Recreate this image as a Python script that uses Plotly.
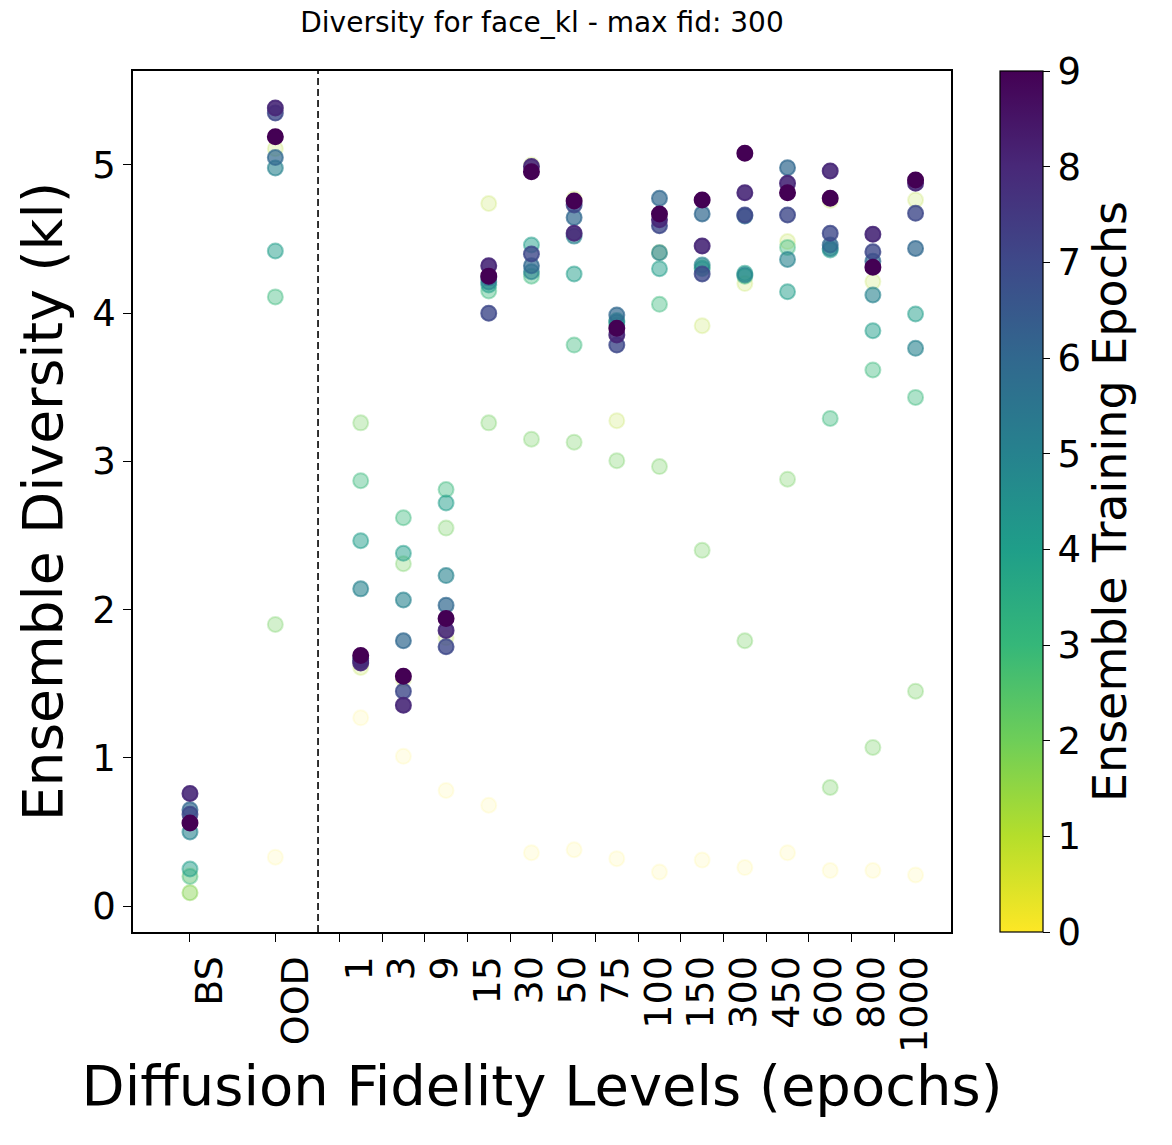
import plotly.graph_objects as go
import plotly.colors as pc

# ---- data ----
categories = ["BS", "OOD", "1", "3", "9", "15", "30", "50", "75", "100",
              "150", "300", "450", "600", "800", "1000"]
epochs = list(range(10))

# diversity values per training epoch, one value per category (order as `categories`)
epoch0 = [0.21, 0.33, 1.27, 1.01, 0.78, 0.68, 0.36, 0.38, 0.32, 0.23, 0.31, 0.26, 0.36, 0.24, 0.24, 0.21]
epoch1 = [0.09, 5.11, 1.61, 1.53, 1.81, 4.74, 5.00, 4.77, 3.275, 4.41, 3.916, 4.20, 4.483, 4.76, 4.213, 4.764]
epoch2 = [0.09, 1.90, 3.26, 2.31, 2.55, 3.26, 3.15, 3.13, 3.005, 2.965, 2.40, 1.79, 2.88, 0.80, 1.07, 1.45]
epoch3 = [0.20, 4.11, 2.87, 2.62, 2.81, 4.15, 4.25, 3.785, 3.92, 4.06, 4.31, 4.25, 4.444, 3.29, 3.617, 3.432]
epoch4 = [0.25, 4.42, 2.465, 2.38, 2.72, 4.19, 4.46, 4.265, 3.95, 4.30, 4.30, 4.27, 4.145, 4.426, 3.882, 3.995]
epoch5 = [0.50, 4.98, 2.14, 2.065, 2.23, 4.21, 4.28, 4.52, 3.94, 4.408, 4.325, 4.258, 4.363, 4.437, 4.123, 3.763]
epoch6 = [0.65, 5.05, 1.67, 1.79, 2.03, 4.24, 4.32, 4.645, 3.988, 4.775, 4.67, 4.655, 4.982, 4.46, 4.35, 4.437]
epoch7 = [0.62, 5.35, 1.655, 1.45, 1.75, 4.00, 4.40, 4.73, 3.785, 4.59, 4.265, 4.663, 4.663, 4.539, 4.415, 4.674]
epoch8 = [0.76, 5.385, 1.64, 1.355, 1.86, 4.32, 4.99, 4.54, 3.853, 4.63, 4.453, 4.813, 4.876, 4.96, 4.532, 4.876]
epoch9 = [0.56, 5.19, 1.69, 1.55, 1.94, 4.25, 4.955, 4.757, 3.898, 4.669, 4.764, 5.079, 4.813, 4.775, 4.31, 4.899]
values = [epoch0, epoch1, epoch2, epoch3, epoch4, epoch5, epoch6, epoch7, epoch8, epoch9]

y_ticks = [0, 1, 2, 3, 4, 5]
cbar_ticks = list(range(10))

# ---- layout of categories on the x axis ----
# BS and OOD sit two units apart, fidelity levels one unit apart starting two units after OOD
xpos = [0, 2] + [4 + i for i in range(len(categories) - 2)]
tick_pos = [0, 2] + [p - 0.5 for p in xpos[2:]]
label_pos = [t + 0.47 for t in tick_pos]
separator_x = 3

viridis = pc.sequential.Viridis  # 10 stops = viridis at k/9


def rgba(hexcol, a):
    r, g, b = pc.hex_to_rgb(hexcol)
    return f"rgba({r},{g},{b},{a:.3f})"


fig = go.Figure()
for e in epochs:
    col = viridis[9 - e]
    a = (e + 1) / 10
    fig.add_trace(go.Scatter(
        x=xpos, y=values[e], mode="markers",
        marker=dict(size=15, color=rgba(col, a),
                    line=dict(color=rgba(col, a), width=2)),
        showlegend=False, name=f"epoch {e}", hoverinfo="x+y+name",
    ))

# colorbar carrier
fig.add_trace(go.Scatter(
    x=[None], y=[None], mode="markers", showlegend=False, hoverinfo="skip",
    marker=dict(color=[0], cmin=0, cmax=9, colorscale="Viridis", reversescale=True,
                showscale=True,
                colorbar=dict(
                    x=(1000 - 133) / 818, xanchor="left", xref="paper", xpad=0,
                    y=0.5, yanchor="middle", len=1, lenmode="fraction", ypad=0,
                    thickness=43, thicknessmode="pixels",
                    outlinewidth=1.2, outlinecolor="black",
                    tickvals=cbar_ticks, ticks="outside", ticklen=7, tickwidth=1.2,
                    tickcolor="black",
                    tickfont=dict(size=37, color="black", family="DejaVu Sans"),
                    title=dict(text="Ensemble Training Epochs", side="right",
                               font=dict(size=46, color="black", family="DejaVu Sans")),
                )),
))

# invisible trace to anchor the label axis
fig.add_trace(go.Scatter(x=[None], y=[None], xaxis="x2", yaxis="y",
                         showlegend=False, hoverinfo="skip"))

fig.add_shape(type="line", xref="x", yref="paper", x0=separator_x, x1=separator_x,
              y0=0, y1=1, line=dict(color="black", width=1.6, dash="7px,4px"))

xr = [-1.335, 17.83]
fig.update_layout(
    width=1172, height=1145,
    margin=dict(l=125, r=229, t=63, b=221),
    paper_bgcolor="white", plot_bgcolor="white",
    font=dict(family="DejaVu Sans", color="black"),
    title=dict(text="Diversity for face_kl - max fid: 300", x=534 / 1172, xanchor="center",
               y=1 - 4 / 1145, yanchor="top", pad=dict(t=0, b=0),
               font=dict(size=28, color="black", family="DejaVu Sans")),
    xaxis=dict(range=xr, tickvals=tick_pos, ticktext=[""] * len(tick_pos),
               ticks="outside", ticklen=8, tickwidth=1.2, tickcolor="black",
               showline=True, linecolor="black", linewidth=1.5, mirror=True,
               showgrid=False, zeroline=False),
    xaxis2=dict(range=xr, overlaying="x", side="bottom", anchor="y",
                tickvals=label_pos, ticktext=categories, tickangle=-90,
                ticks="outside", ticklen=8, tickcolor="rgba(0,0,0,0)",
                tickfont=dict(size=38, color="black", family="DejaVu Sans"),
                showline=False, showgrid=False, zeroline=False,
                title=dict(text="Diffusion Fidelity Levels (epochs)",
                           font=dict(size=56, color="black", family="DejaVu Sans"),
                           standoff=0)),
    yaxis=dict(range=[-0.175, 5.634], tickvals=y_ticks,
               ticks="outside", ticklen=8, tickwidth=1.2, tickcolor="black",
               tickfont=dict(size=37, color="black", family="DejaVu Sans"),
               showline=True, linecolor="black", linewidth=1.5, mirror=True,
               showgrid=False, zeroline=False,
               title=dict(text="Ensemble Diversity (kl)",
                          font=dict(size=55, color="black", family="DejaVu Sans"),
                          standoff=12)),
)

fig.write_html("out.html")
